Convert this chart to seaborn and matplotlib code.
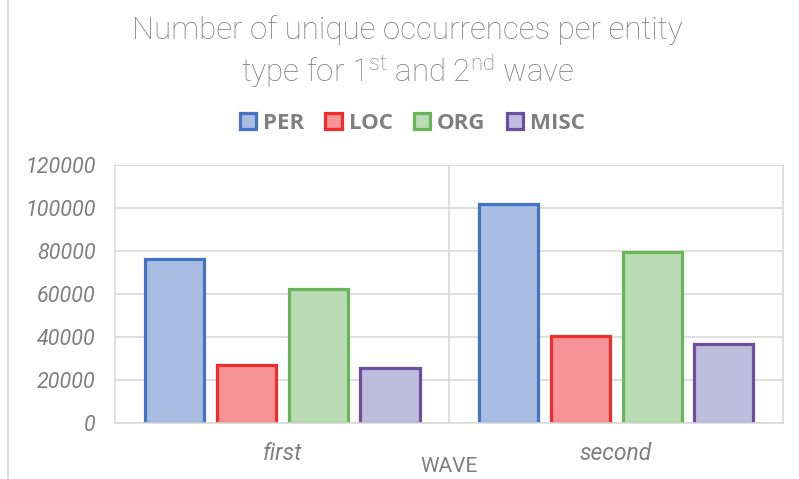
import pandas as pd
import matplotlib.pyplot as plt
import seaborn as sns
from matplotlib.patches import Patch
from matplotlib.lines import Line2D

# values
waves = ["first", "second"]
entities = ["PER", "LOC", "ORG", "MISC"]
per = [76000, 101500]
loc = [27000, 40500]
org = [62000, 79500]
misc = [25600, 36500]

fills = ["#A9BCE2", "#F59396", "#B9DCB4", "#BFBDDD"]
edges = ["#4472C4", "#EE2D2D", "#6AB55A", "#6E4EA0"]

df = pd.DataFrame({
    "wave": waves * 4,
    "entity": [e for e in entities for _ in waves],
    "count": per + loc + org + misc,
})

sns.set_style("white")
plt.rcParams["font.family"] = ["Roboto", "DejaVu Sans"]
plt.rcParams["mathtext.fontset"] = "custom"
plt.rcParams["mathtext.rm"] = "Roboto:light"
grey = "#7F7F7F"

fig = plt.figure(figsize=(7.99, 4.79), dpi=100)
ax = fig.add_axes([0.144, 0.1175, 0.836, 0.539])

sns.barplot(data=df, x="wave", y="count", hue="entity", order=waves,
            hue_order=entities, palette=fills, width=0.862, gap=0.18,
            legend=False, ax=ax, saturation=1)
for cont, ec in zip(ax.containers, edges):
    for bar in cont:
        bar.set_edgecolor(ec)
        bar.set_linewidth(2.3)

ax.set_ylim(0, 120000)
ax.set_xlim(-0.5, 1.5)
ax.set_yticks(range(0, 120001, 20000))
ax.set_yticklabels([str(v) for v in range(0, 120001, 20000)],
                   fontsize=15.5, style="italic", color=grey)
ax.set_xticks([0, 1])
ax.set_xticklabels(waves, fontsize=16.5, style="italic", color=grey)
ax.tick_params(axis="both", length=0)
ax.tick_params(axis="y", pad=14)
ax.tick_params(axis="x", pad=14)
ax.yaxis.grid(True, color="#D9D9D9", linewidth=1.2)
ax.set_axisbelow(True)
ax.axvline(0.5, color="#D9D9D9", linewidth=1.2, zorder=0)
for side in ["left", "right", "bottom"]:
    ax.spines[side].set_color("#D9D9D9")
    ax.spines[side].set_linewidth(1.2)
ax.spines["top"].set_visible(False)
ax.set_ylabel("")
ax.set_xlabel("WAVE", fontsize=15, color=grey, labelpad=-6)

fig.text(0.51, 0.89,
         "Number of unique occurrences per entity\n"
         r"type for 1$^{\mathrm{st}}$ and 2$^{\mathrm{nd}}$ wave",
         ha="center", va="center", fontsize=22.5, color=grey,
         weight="light", linespacing=1.25)

handles = [Patch(facecolor=f, edgecolor=e, linewidth=2.3) for f, e in zip(fills, edges)]
fig.legend(handles, entities, loc="center", bbox_to_anchor=(0.516, 0.743),
           ncol=4, frameon=False, handlelength=0.75, handleheight=0.75,
           handletextpad=0.3, columnspacing=0.95,
           prop={"family": "Open Sans", "weight": "bold", "size": 16},
           labelcolor=grey)

fig.add_artist(Line2D([0.01, 0.01], [0, 1], color="#D9D9D9", linewidth=1.2,
                      transform=fig.transFigure))

plt.savefig("out.png", dpi=100)
